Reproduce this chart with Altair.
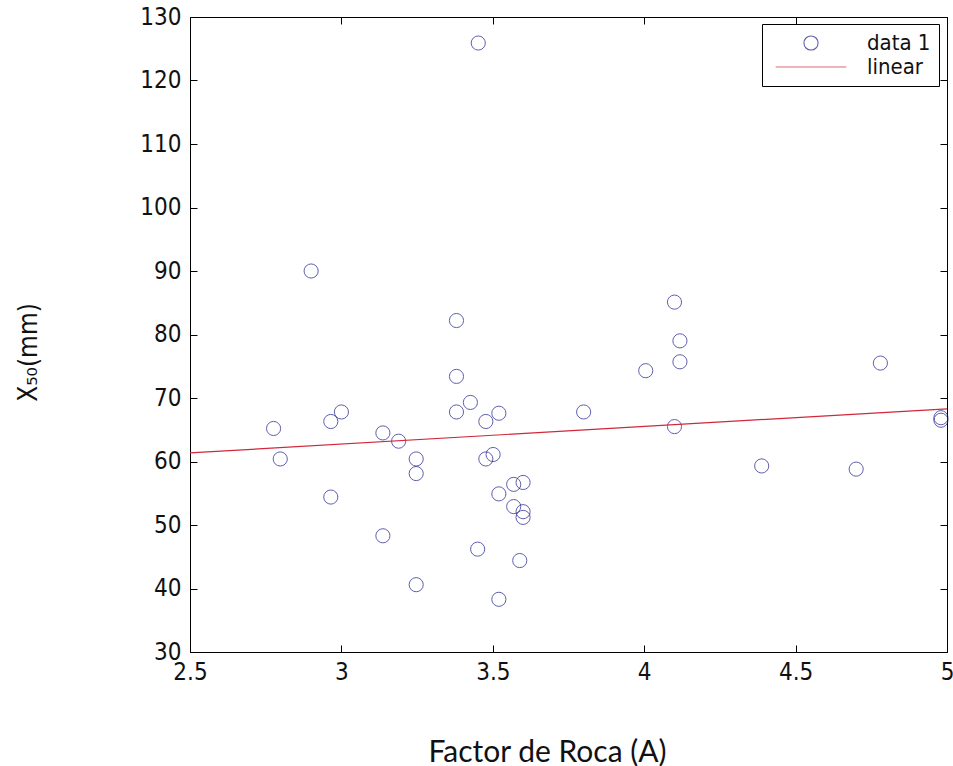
import altair as alt
import pandas as pd

# ---- data ----
factor_a = [2.90, 3.38, 3.38, 3.426, 3.38, 3.52, 3.477, 3.00, 2.965, 2.776,
            3.137, 3.189, 2.798, 3.247, 3.247, 3.477, 3.501, 2.965, 3.569, 3.60,
            3.52, 3.569, 3.60, 3.60, 3.137, 3.45, 3.589, 3.247, 3.52, 3.452,
            4.10, 4.118, 4.118, 4.005, 4.78, 3.80, 4.10, 4.388, 4.70, 4.98, 4.98]
x50_mm = [90.0, 82.2, 73.4, 69.3, 67.8, 67.6, 66.3, 67.8, 66.3, 65.2,
          64.5, 63.2, 60.4, 60.4, 58.1, 60.4, 61.1, 54.4, 56.4, 56.7,
          54.9, 52.9, 52.1, 51.2, 48.3, 46.2, 44.4, 40.6, 38.3, 125.9,
          85.1, 79.0, 75.7, 74.3, 75.5, 67.8, 65.5, 59.3, 58.8, 66.5, 66.9]
fit_x = [2.5, 5.0]
fit_y = [61.35, 68.3]
x_ticks = [2.5, 3, 3.5, 4, 4.5, 5]
y_ticks = [30, 40, 50, 60, 70, 80, 90, 100, 110, 120, 130]
series_names = ["data 1", "linear"]
series_colors = ["#1c1c8c", "#d0283a"]
series_shapes = ["circle", "M-5,0H5"]

pts = pd.DataFrame({"A": factor_a, "X50": x50_mm, "serie": series_names[0]})
fit = pd.DataFrame({"A": fit_x, "X50": fit_y, "serie": series_names[1]})

NARROW = "Liberation Sans Narrow, DejaVu Sans Condensed, Liberation Sans, Arial"

xscale = alt.Scale(domain=[2.5, 5], nice=False, zero=False)
yscale = alt.Scale(domain=[30, 130], nice=False, zero=False)
cscale = alt.Scale(domain=series_names, range=series_colors)
sscale = alt.Scale(domain=series_names, range=series_shapes)

legend = alt.Legend(
    title=None, orient="none", legendX=572, legendY=7, direction="vertical",
    fillColor="white", strokeColor="#000", padding=8,
    symbolSize=200, symbolStrokeWidth=1.1, symbolFillColor="transparent",
    symbolOffset=30,
    labelFont=NARROW, labelFontSize=22, labelColor="#111", labelOffset=45,
    rowPadding=2,
)

x_label_axis = alt.Axis(
    orient="bottom", values=x_ticks, format="~g", ticks=False, tickSize=0,
    domain=False, grid=False, labelFlush=False, labelFont=NARROW,
    labelFontSize=24, labelColor="#111", labelPadding=8,
    title="Factor de Roca (A)", titleFont="Lato", titleFontSize=30,
    titleFontWeight="normal", titleColor="#111", titleX=357, titleY=109,
    titleBaseline="alphabetic", titleAlign="center",
)
y_label_axis = alt.Axis(
    orient="left", values=y_ticks, ticks=False, tickSize=0, domain=False,
    grid=False, labelFlush=False, labelFont=NARROW, labelFontSize=24,
    labelColor="#111", labelPadding=9,
    title="X₅₀(mm)", titleFont=NARROW, titleFontSize=26,
    titleFontWeight="normal", titleColor="#111", titleAngle=270,
    titleX=-162, titleY=335, titleBaseline="middle", titleAlign="center",
)


def tick_axis(orient, vals):
    return alt.Axis(orient=orient, values=vals, labels=False, domain=False,
                    grid=False, ticks=True, tickSize=7, tickColor="#000",
                    tickWidth=1, offset=-7, title=None)


points = alt.Chart(pts).mark_point(
    filled=False, size=200, strokeWidth=1
).encode(
    x=alt.X("A:Q", scale=xscale, axis=x_label_axis),
    y=alt.Y("X50:Q", scale=yscale, axis=y_label_axis),
    color=alt.Color("serie:N", scale=cscale, legend=legend),
    shape=alt.Shape("serie:N", scale=sscale, legend=legend),
)

line_a = alt.Chart(fit).mark_line(strokeWidth=1.2).encode(
    x=alt.X("A:Q", scale=xscale, axis=tick_axis("bottom", x_ticks)),
    y=alt.Y("X50:Q", scale=yscale, axis=tick_axis("left", y_ticks)),
    color=alt.Color("serie:N", scale=cscale, legend=None),
)

line_b = alt.Chart(fit).mark_line(opacity=0).encode(
    x=alt.X("A:Q", scale=xscale, axis=tick_axis("top", x_ticks)),
    y=alt.Y("X50:Q", scale=yscale, axis=tick_axis("right", y_ticks)),
)

chart = alt.layer(points, line_a, line_b).resolve_axis(
    x="independent", y="independent"
).properties(
    width=757, height=635,
    padding={"left": 190, "top": 17, "right": 6, "bottom": 114},
    autosize=alt.AutoSizeParams(type="none"),
    background="white",
).configure_view(stroke="#000", strokeWidth=1)

chart.save("out.html", embed_options={"renderer": "svg", "actions": False})
